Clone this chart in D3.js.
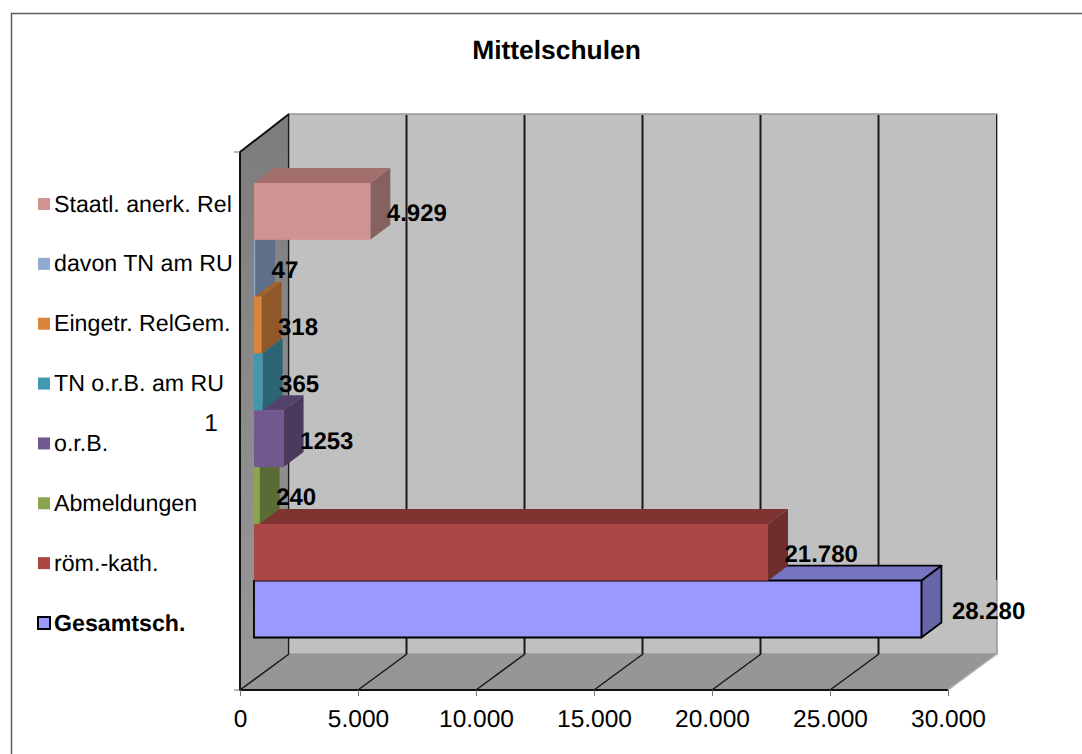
<!DOCTYPE html>
<html>
<head>
<meta charset="utf-8">
<script src="https://cdn.jsdelivr.net/npm/d3@7"></script>
<style>
  body { margin: 0; background: #fff; }
  svg { display: block; font-family: "Liberation Sans", Arial, sans-serif; text-rendering: geometricPrecision; }
</style>
</head>
<body>
<svg id="svg" width="1082" height="754"></svg>
<script>
// DATA (front to back, the way the bars stack up)
const categories = ["Gesamtsch.", "röm.-kath.", "Abmeldungen", "o.r.B.", "TN o.r.B. am RU", "Eingetr. RelGem.", "davon TN am RU", "Staatl. anerk. Rel"];
const values = [28280, 21780, 240, 1253, 365, 318, 47, 4929];
const valueLabels = ["28.280", "21.780", "240", "1253", "365", "318", "47", "4.929"];
const xTicks = [0, 5000, 10000, 15000, 20000, 25000, 30000];
const frontColors = ["#9999ff", "#aa4643", "#89a54e", "#71588f", "#4198af", "#db843d", "#93a9cf", "#d19392"];
const topColors = ["#7575c2", "#7f3432", "#677c3a", "#55426b", "#316f83", "#a4632e", "#6e7f9b", "#a26f6e"];
const sideColors = ["#6666a8", "#6f2e2c", "#5a6c33", "#4a3a5e", "#2b6473", "#905728", "#606f88", "#866160"];

// VARIABLES
const svg = d3.select("#svg");
const depth = { x: 49, y: -36 };      // depth of the whole box
const barDepth = { x: 20, y: -15 };   // depth of one bar
const barInset = 14;                  // bars start a bit off the side wall
const floorY = 690;
const wallTop = 152;

const x = d3.scaleLinear().domain([0, 30000]).range([240, 948]);
const y = d3.scaleBand().domain(categories).range([637.5, 183]);
const legendY = d3.scalePoint().domain(categories).range([623, 204]);
const numFormat = d3.formatLocale({ decimal: ",", thousands: ".", grouping: [3], currency: ["", ""] }).format(",d");
const poly = pts => pts.map(p => p.join(",")).join(" ");

// frame, only top and left like in the original
svg.append("path").attr("d", "M11.5,754V13.5H1082").attr("fill", "none").attr("stroke", "#5f5f5f").attr("stroke-width", 1.5);

svg.append("text")
  .attr("x", 556.5).attr("y", 58.5)
  .attr("text-anchor", "middle")
  .attr("font-size", 26.4).attr("font-weight", "bold")
  .text("Mittelschulen");

// BOX
const grad = svg.append("defs").append("linearGradient")
  .attr("id", "sideWall").attr("x1", 0).attr("y1", 0).attr("x2", 0).attr("y2", 1);
grad.append("stop").attr("offset", "0%").attr("stop-color", "#7c7c7c");
grad.append("stop").attr("offset", "100%").attr("stop-color", "#999");

const x0 = x(0), x1 = x(30000);
svg.append("polygon") // back wall
  .attr("points", poly([[x0 + depth.x, wallTop + depth.y - 2], [x1 + depth.x, wallTop + depth.y - 2], [x1 + depth.x, floorY + depth.y], [x0 + depth.x, floorY + depth.y]]))
  .attr("fill", "#c0c0c0").attr("stroke", "#979797").attr("stroke-width", 1.5);
svg.append("polygon") // side wall
  .attr("points", poly([[x0, wallTop], [x0 + depth.x, wallTop + depth.y - 2], [x0 + depth.x, floorY + depth.y], [x0, floorY]]))
  .attr("fill", "url(#sideWall)");
svg.append("polygon") // floor
  .attr("points", poly([[x0, floorY], [x1, floorY], [x1 + depth.x, floorY + depth.y], [x0 + depth.x, floorY + depth.y]]))
  .attr("fill", "#969696");

// grid on back wall and floor
const grid = svg.append("g").attr("fill", "none").attr("stroke", "#1a1a1a");
grid.selectAll("line.wall")
  .data(xTicks)
  .enter()
  .append("line")
  .attr("class", "wall")
  .attr("x1", d => x(d) + depth.x - 0.5).attr("x2", d => x(d) + depth.x - 0.5)
  .attr("y1", wallTop + depth.y - 1)
  .attr("y2", d => d === 30000 ? 580 : floorY + depth.y)
  .attr("stroke-width", d => d === 30000 ? 1 : d === 0 ? 1.2 : 2);
grid.selectAll("line.floor")
  .data(xTicks.slice(0, -1))
  .enter()
  .append("line")
  .attr("class", "floor")
  .attr("x1", d => x(d)).attr("y1", floorY)
  .attr("x2", d => x(d) + depth.x).attr("y2", floorY + depth.y)
  .attr("stroke-width", 1.5);

// BARS, drawn front to back on purpose, the back ones overlap the front ones
const bars = svg.append("g").selectAll("g")
  .data(categories)
  .enter()
  .append("g")
  .attr("stroke", (d, i) => i === 0 ? "#000" : "none")
  .attr("stroke-width", 1.8)
  .attr("stroke-linejoin", "round");

const barEnd = i => x(values[i]) + barInset;
const barStart = x(0) + barInset;

bars.append("polygon") // top
  .attr("fill", (d, i) => topColors[i])
  .attr("points", (d, i) => poly([[barStart, y(d)], [barEnd(i), y(d)], [barEnd(i) + barDepth.x, y(d) + barDepth.y], [barStart + barDepth.x, y(d) + barDepth.y]]));
bars.append("polygon") // side
  .attr("fill", (d, i) => sideColors[i])
  .attr("points", (d, i) => poly([[barEnd(i), y(d)], [barEnd(i) + barDepth.x, y(d) + barDepth.y], [barEnd(i) + barDepth.x, y(d) + y.bandwidth() + barDepth.y], [barEnd(i), y(d) + y.bandwidth()]]));
bars.append("rect") // front
  .attr("fill", (d, i) => frontColors[i])
  .attr("x", barStart)
  .attr("y", d => y(d))
  .attr("width", (d, i) => x(values[i]) - x(0))
  .attr("height", y.bandwidth());

// axis lines on top of the box
svg.append("path")
  .attr("d", `M${x0 + depth.x},${wallTop + depth.y - 2}L${x0},${wallTop}V${floorY}H${x1}`)
  .attr("fill", "none").attr("stroke", "#111").attr("stroke-width", 2);
svg.append("path")
  .attr("d", `M${x1},${floorY}L${x1 + depth.x},${floorY + depth.y}`)
  .attr("fill", "none").attr("stroke", "#b5b5b5").attr("stroke-width", 1.5);

// X AXIS
const xAxis = svg.append("g")
  .attr("transform", `translate(0,${floorY})`)
  .call(d3.axisBottom(x).tickValues(xTicks).tickFormat(numFormat).tickSize(6).tickPadding(14));
xAxis.select(".domain").remove();
xAxis.selectAll("line").attr("stroke", "#777");
xAxis.selectAll("text").attr("font-size", 24.5).attr("font-family", "inherit").attr("fill", "#000");

// left ticks
svg.selectAll("line.ytick")
  .data([wallTop, floorY])
  .enter()
  .append("line")
  .attr("class", "ytick")
  .attr("x1", x0 - 6).attr("x2", x0)
  .attr("y1", d => d).attr("y2", d => d)
  .attr("stroke", "#777");

// stray category label from the original
svg.append("text")
  .attr("x", 211).attr("y", 431)
  .attr("text-anchor", "middle")
  .attr("font-size", 24.5)
  .text("1");

// VALUE LABELS
svg.append("g").selectAll("text")
  .data(categories)
  .enter()
  .append("text")
  .attr("x", (d, i) => barEnd(i) + (i === 0 ? 30.5 : 16.5))
  .attr("y", d => y(d) + y.bandwidth() / 2 + 10)
  .attr("font-size", 24)
  .attr("font-weight", "bold")
  .text((d, i) => valueLabels[i]);

// LEGEND
const legend = svg.append("g").selectAll("g")
  .data(categories)
  .enter()
  .append("g")
  .attr("transform", d => `translate(0,${legendY(d)})`);
legend.append("rect")
  .attr("x", 38).attr("y", -6).attr("width", 12).attr("height", 12)
  .attr("fill", (d, i) => frontColors[i])
  .attr("stroke", (d, i) => i === 0 ? "#000" : "none")
  .attr("stroke-width", 2);
legend.append("text")
  .attr("x", 54).attr("y", 7.5)
  .attr("font-size", 23.2)
  .attr("font-weight", (d, i) => i === 0 ? "bold" : "normal")
  .text(d => d);
</script>
</body>
</html>
